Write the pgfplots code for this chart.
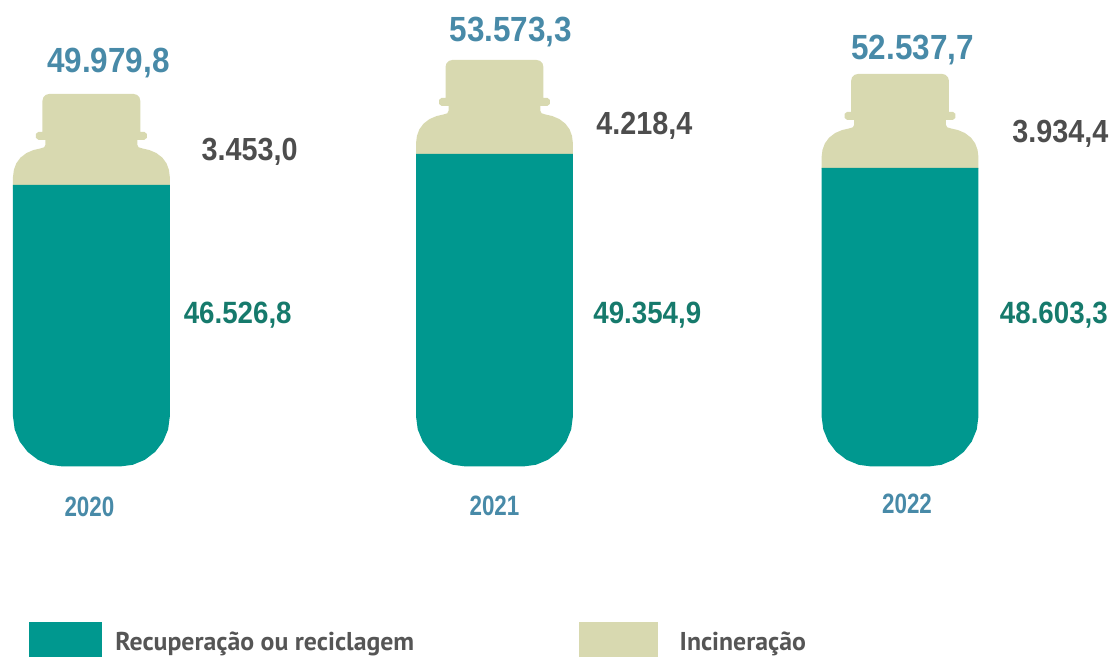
\documentclass[border=0pt]{standalone}
\usepackage{pgfplots}
\pgfplotsset{compat=1.18}
\usepackage{pgfplotstable}
\usepackage{fontspec}
\setmainfont{Liberation Sans}
\newfontfamily\numfont[FakeStretch=0.9]{Liberation Sans}
\newfontfamily\yearfont[FakeStretch=0.8]{Liberation Sans}
\newfontfamily\legfont{PT Sans}
\definecolor{tealfill}{RGB}{0,152,143}
\definecolor{beigefill}{RGB}{216,217,176}
\definecolor{totblue}{RGB}{72,138,168}
\definecolor{numgray}{RGB}{77,77,77}
\definecolor{numgreen}{RGB}{22,122,108}
\definecolor{leggray}{RGB}{85,85,85}

% bottle top (shoulder, neck, cap) relative to centre and top of bottle, in pixels
\pgfplotstableread{
dx dy
-78.5 -95
-78.5 -83
-77.6 -76
-75.2 -69.5
-71.0 -63.8
-65.0 -59.2
-58.0 -56.2
-51.0 -54.6
-47.2 -53.4
-46 -51
-46 -46
-53 -46
-55.5 -44
-55.5 -40
-53 -38
-49 -38
-49 -7
-48.1 -3.5
-45.5 -0.9
-42 0
42 0
45.5 -0.9
48.1 -3.5
49 -7
49 -38
53 -38
55.5 -40
55.5 -44
53 -46
46 -46
46 -51
47.2 -53.4
51.0 -54.6
58.0 -56.2
65.0 -59.2
71.0 -63.8
75.2 -69.5
77.6 -76
78.5 -83
78.5 -95
}\topshape

\begin{document}
\begin{tikzpicture}
\begin{axis}[
  scale only axis, width=557.5pt, height=332.5pt,
  xmin=0, xmax=1115, ymin=-198, ymax=467,
  axis lines=none, clip=false,
]
\path (rel axis cs:0,0) rectangle (rel axis cs:1,1);

% --- bottle tops (Incineração), total height
\addplot[fill=beigefill, draw=none] table[x expr=\thisrow{dx}+91.5, y expr=\thisrow{dy}+373] {\topshape};
\addplot[fill=beigefill, draw=none] table[x expr=\thisrow{dx}+495, y expr=\thisrow{dy}+407] {\topshape};
\addplot[fill=beigefill, draw=none] table[x expr=\thisrow{dx}+901, y expr=\thisrow{dy}+393] {\topshape};

% --- bottle bodies (Recuperação ou reciclagem)
\addplot[fill=tealfill, draw=none] coordinates {
(13,282) (13,50) (14.7,37.05) (19.7,25) (27.65,14.65) (38,6.7) (50.05,1.7) (63,0)
(120,0) (132.95,1.7) (145,6.7) (155.35,14.65) (163.3,25) (168.3,37.05) (170,50) (170,282)};
\addplot[fill=tealfill, draw=none] coordinates {
(416.5,313) (416.5,50) (418.2,37.05) (423.2,25) (431.15,14.65) (441.5,6.7) (453.55,1.7) (466.5,0)
(523.5,0) (536.45,1.7) (548.5,6.7) (558.85,14.65) (566.8,25) (571.8,37.05) (573.5,50) (573.5,313)};
\addplot[fill=tealfill, draw=none] coordinates {
(822.5,299) (822.5,50) (824.2,37.05) (829.2,25) (837.15,14.65) (847.5,6.7) (859.55,1.7) (872.5,0)
(929.5,0) (942.45,1.7) (954.5,6.7) (964.85,14.65) (972.8,25) (977.8,37.05) (979.5,50) (979.5,299)};

% --- totals
\node[text=totblue, font=\numfont\bfseries\fontsize{17.5}{20}\selectfont] at (axis cs:108.5,403.5) {49.979,8};
\node[text=totblue, font=\numfont\bfseries\fontsize{17.5}{20}\selectfont] at (axis cs:511.5,434.5) {53.573,3};
\node[text=totblue, font=\numfont\bfseries\fontsize{17.5}{20}\selectfont] at (axis cs:913.5,416.5) {52.537,7};

% --- incineração
\node[text=numgray, font=\numfont\bfseries\fontsize{16}{18}\selectfont] at (axis cs:250,315) {3.453,0};
\node[text=numgray, font=\numfont\bfseries\fontsize{16}{18}\selectfont] at (axis cs:645,341) {4.218,4};
\node[text=numgray, font=\numfont\bfseries\fontsize{16}{18}\selectfont] at (axis cs:1061.5,333.5) {3.934,4};

% --- recuperação
\node[text=numgreen, font=\numfont\bfseries\fontsize{15.4}{18}\selectfont] at (axis cs:238,152) {46.526,8};
\node[text=numgreen, font=\numfont\bfseries\fontsize{15.4}{18}\selectfont] at (axis cs:648,152) {49.354,9};
\node[text=numgreen, font=\numfont\bfseries\fontsize{15.4}{18}\selectfont] at (axis cs:1055,152) {48.603,3};

% --- years
\node[text=totblue, font=\yearfont\bfseries\fontsize{14}{16}\selectfont] at (axis cs:89.5,-40.5) {2020};
\node[text=totblue, font=\yearfont\bfseries\fontsize{14}{16}\selectfont] at (axis cs:495,-39) {2021};
\node[text=totblue, font=\yearfont\bfseries\fontsize{14}{16}\selectfont] at (axis cs:908,-37) {2022};

% --- legend
\fill[tealfill] (axis cs:29,-156) rectangle (axis cs:102,-191);
\node[anchor=base west, inner sep=0pt, text=leggray, font=\legfont\bfseries\fontsize{12.9}{15}\selectfont] at (axis cs:115,-184) {Recuperação ou reciclagem};
\fill[beigefill] (axis cs:580,-156) rectangle (axis cs:659,-191);
\node[anchor=base west, inner sep=0pt, text=leggray, font=\legfont\bfseries\fontsize{12.9}{15}\selectfont] at (axis cs:680,-184) {Incineração};
\end{axis}
\end{tikzpicture}
\end{document}
